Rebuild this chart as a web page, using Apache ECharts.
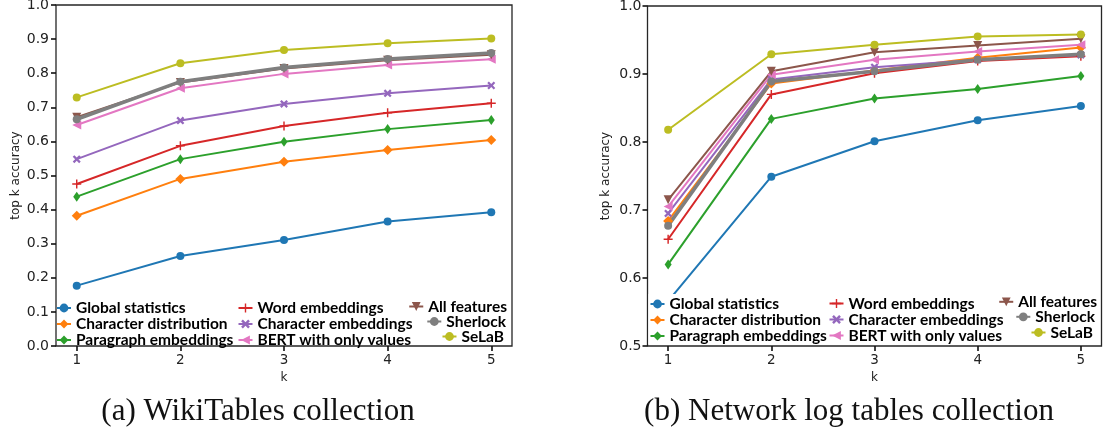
<!DOCTYPE html>
<html>
<head>
<meta charset="utf-8">
<script src="https://cdn.jsdelivr.net/npm/echarts@6/dist/echarts.min.js"></script>
<style>
  html, body { margin: 0; padding: 0; background: #ffffff; }
  #chart { width: 1112px; height: 435px; }
</style>
</head>
<body>
<div id="chart"></div>
<script>
// ---- data ----
const kValues = [1, 2, 3, 4, 5];
const kTicks = [1, 2, 3, 4, 5];
const seriesNames = [
  'Global statistics', 'Character distribution', 'Paragraph embeddings',
  'Word embeddings', 'Character embeddings', 'BERT with only values',
  'All features', 'Sherlock', 'SeLaB'
];
const captions = ['(a) WikiTables collection', '(b) Network log tables collection'];

// (a) WikiTables collection, top k accuracy for k = 1..5
const wikiGlobalStats     = [0.177, 0.264, 0.311, 0.365, 0.392];
const wikiCharDist        = [0.382, 0.490, 0.540, 0.575, 0.604];
const wikiParagraphEmb    = [0.438, 0.548, 0.599, 0.636, 0.663];
const wikiWordEmb         = [0.475, 0.587, 0.645, 0.684, 0.712];
const wikiCharEmb         = [0.548, 0.661, 0.710, 0.741, 0.764];
const wikiBertValues      = [0.648, 0.756, 0.798, 0.824, 0.841];
const wikiAllFeatures     = [0.671, 0.773, 0.814, 0.838, 0.854];
const wikiSherlock        = [0.665, 0.775, 0.817, 0.842, 0.859];
const wikiSeLaB           = [0.729, 0.829, 0.868, 0.888, 0.902];

// (b) Network log tables collection
const netGlobalStats      = [0.566, 0.749, 0.801, 0.832, 0.853];
const netCharDist         = [0.684, 0.886, 0.905, 0.924, 0.939];
const netParagraphEmb     = [0.620, 0.834, 0.864, 0.878, 0.897];
const netWordEmb          = [0.657, 0.870, 0.901, 0.919, 0.926];
const netCharEmb          = [0.695, 0.892, 0.910, 0.921, 0.928];
const netBertValues       = [0.705, 0.899, 0.921, 0.933, 0.943];
const netAllFeatures      = [0.715, 0.904, 0.932, 0.942, 0.952];
const netSherlock         = [0.677, 0.889, 0.904, 0.921, 0.929];
const netSeLaB            = [0.818, 0.929, 0.943, 0.955, 0.958];

const wikiValues = [wikiGlobalStats, wikiCharDist, wikiParagraphEmb, wikiWordEmb,
  wikiCharEmb, wikiBertValues, wikiAllFeatures, wikiSherlock, wikiSeLaB];
const netValues = [netGlobalStats, netCharDist, netParagraphEmb, netWordEmb,
  netCharEmb, netBertValues, netAllFeatures, netSherlock, netSeLaB];

// ---- styles ----
const PLUS = 'path://M4.2,0H5.8V4.2H10V5.8H5.8V10H4.2V5.8H0V4.2H4.2Z';
const XMARK = 'path://M0,2L2,0L5,3L8,0L10,2L7,5L10,8L8,10L5,7L2,10L0,8L3,5Z';
const TRI_DOWN = 'path://M0,0L10,0L5,8.66Z';
const TRI_LEFT = 'path://M8.66,0L8.66,10L0,5Z';

const seriesStyles = [
  { color: '#1f77b4', symbol: 'circle',  size: 8,      width: 2 },
  { color: '#ff7f0e', symbol: 'diamond', size: 10,     width: 2 },
  { color: '#2ca02c', symbol: 'diamond', size: [7, 10], width: 2 },
  { color: '#d62728', symbol: PLUS,      size: 9,      width: 2 },
  { color: '#9467bd', symbol: XMARK,     size: 8,      width: 2 },
  { color: '#e377c2', symbol: TRI_LEFT,  size: 9,      width: 2 },
  { color: '#8c564b', symbol: TRI_DOWN,  size: 9,      width: 2 },
  { color: '#7f7f7f', symbol: 'circle',  size: 8,      width: 3.5 },
  { color: '#bcbd22', symbol: 'circle',  size: 8,      width: 2 }
];

const axisFont = 'DejaVu Sans';
const legendFont = 'Lato';
const frameColor = '#262626';

function makeSeries(values, gridIdx) {
  return values.map((vals, i) => {
    const st = seriesStyles[i];
    return {
      name: seriesNames[i],
      type: 'line',
      xAxisIndex: gridIdx,
      yAxisIndex: gridIdx,
      data: kValues.map((k, j) => [k, vals[j]]),
      symbol: st.symbol,
      symbolSize: st.size,
      showSymbol: true,
      color: st.color,
      lineStyle: { color: st.color, width: st.width },
      itemStyle: { color: st.color },
      emphasis: { disabled: true },
      animation: false,
      z: 2
    };
  });
}

function xAxisFor(gridIdx) {
  return {
    type: 'value', gridIndex: gridIdx, min: 0.8, max: 5.2,
    name: 'k', nameLocation: 'middle', nameGap: 26,
    nameTextStyle: { fontFamily: axisFont, fontSize: 12, color: '#222' },
    axisLine: { show: false },
    splitLine: { show: false },
    axisTick: { show: true, inside: false, length: 5, customValues: kTicks,
      lineStyle: { color: '#111', width: 1.6 } },
    axisLabel: { customValues: kTicks, margin: 7, fontFamily: axisFont, fontSize: 13.5, color: '#222' }
  };
}

function yAxisFor(gridIdx, min, nameGap, margin) {
  return {
    type: 'value', gridIndex: gridIdx, min: min, max: 1.0, interval: 0.1,
    name: 'top k accuracy', nameLocation: 'middle', nameGap: nameGap,
    nameTextStyle: { fontFamily: axisFont, fontSize: 12, color: '#222' },
    axisLine: { show: false },
    splitLine: { show: false },
    axisTick: { show: true, inside: false, length: 5, lineStyle: { color: '#111', width: 1.6 } },
    axisLabel: { margin: margin, fontFamily: axisFont, fontSize: 14, color: '#222',
      formatter: v => v.toFixed(1) }
  };
}

const legendText = { fontFamily: legendFont, fontWeight: 'bold', fontSize: 15.5,
  color: '#000', lineHeight: 14.5 };

// backed: white box so lines passing under the legend are hidden
function legendBlock(names, pos, backed) {
  return Object.assign({
    data: names, orient: 'vertical', itemGap: 0, itemWidth: 14, itemHeight: 11,
    padding: [2, 1, 0, 1], backgroundColor: backed ? '#ffffff' : 'transparent',
    textStyle: legendText, selectedMode: false, z: 4
  }, pos);
}

const legends = [
  // (a)
  legendBlock(seriesNames.slice(0, 3), { left: 55, top: 298 }, false),
  legendBlock(seriesNames.slice(3, 6), { left: 236.5, top: 298 }, false),
  legendBlock([seriesNames[6]], { right: 604, top: 296.5 }, false),
  legendBlock([seriesNames[7]], { right: 605, top: 311.5 }, false),
  legendBlock([seriesNames[8]], { right: 607, top: 326.5 }, false),
  // (b)
  legendBlock(seriesNames.slice(0, 3), { left: 648.5, top: 294 }, true),
  legendBlock(seriesNames.slice(3, 6), { left: 827.5, top: 293.5 }, true),
  legendBlock([seriesNames[6]], { right: 14, top: 291.8 }, false),
  legendBlock([seriesNames[7]], { right: 16, top: 306.8 }, false),
  legendBlock([seriesNames[8]], { right: 18, top: 322.5 }, false)
];

const captionStyle = { fontFamily: 'Liberation Serif', fontSize: 31, fontWeight: 'normal', color: '#111' };

const option = {
  backgroundColor: '#ffffff',
  animation: false,
  title: [
    { text: captions[0], left: 258, top: 396, textAlign: 'center', textStyle: captionStyle, padding: 0 },
    { text: captions[1], left: 849, top: 396, textAlign: 'center', textStyle: captionStyle, padding: 0 }
  ],
  grid: [
    { left: 56, top: 5, width: 456, height: 341, show: true, borderColor: frameColor,
      borderWidth: 1.3, backgroundColor: 'transparent', containLabel: false, outerBoundsMode: 'none' },
    { left: 647.5, top: 6, width: 454, height: 340, show: true, borderColor: frameColor,
      borderWidth: 1.3, backgroundColor: 'transparent', containLabel: false, outerBoundsMode: 'none' }
  ],
  xAxis: [xAxisFor(0), xAxisFor(1)],
  yAxis: [yAxisFor(0, 0.0, 34, 7), yAxisFor(1, 0.5, 36, 6)],
  legend: legends,
  series: makeSeries(wikiValues, 0).concat(makeSeries(netValues, 1))
};

const chart = echarts.init(document.getElementById('chart'), null, { renderer: 'canvas' });
chart.setOption(option);
</script>
</body>
</html>
